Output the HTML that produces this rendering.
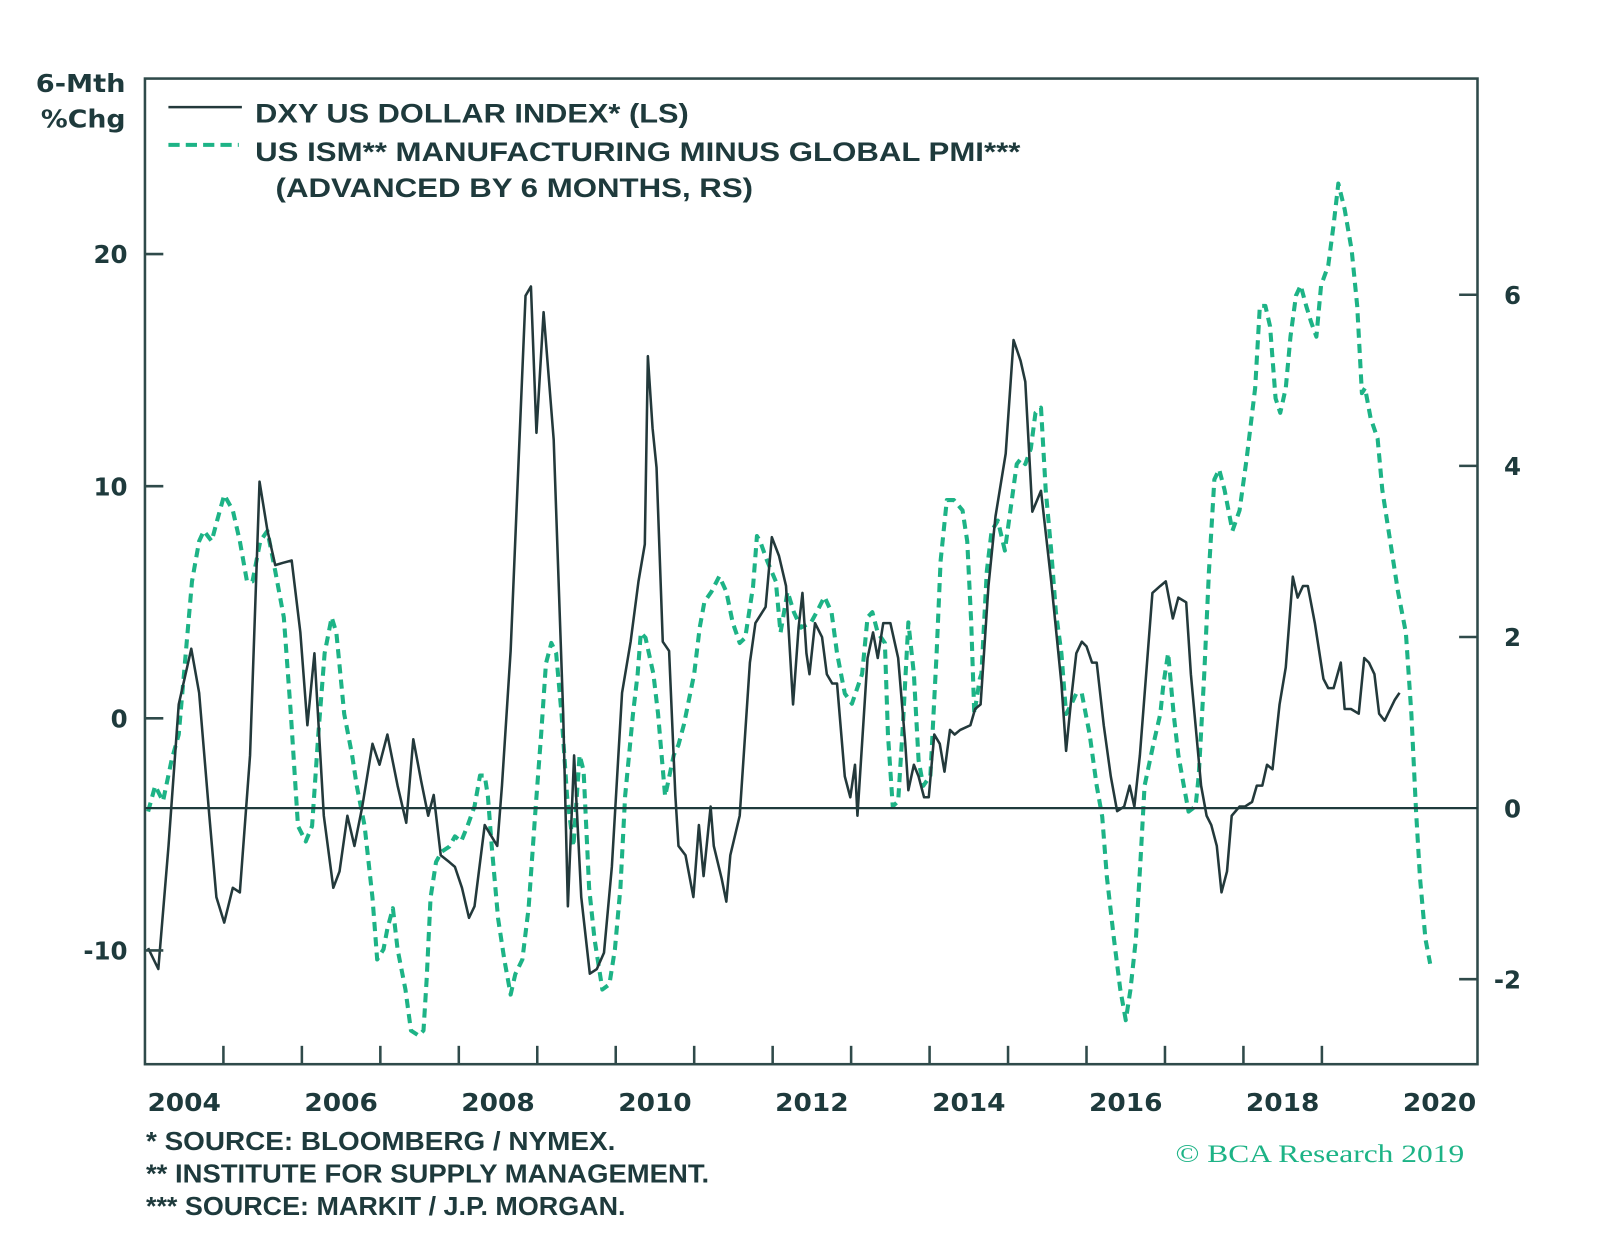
<!DOCTYPE html>
<html><head><meta charset="utf-8"><style>
html,body{margin:0;padding:0;background:#fff;}
svg{display:block;}
text{font-family:"Liberation Sans",sans-serif;fill:#1e3a3c;font-weight:bold;}
.dv{font-family:"DejaVu Sans","Liberation Sans",sans-serif;}
</style></head><body>
<svg id="chart" width="1600" height="1255" viewBox="0 0 1568 1230" xmlns="http://www.w3.org/2000/svg">
<rect x="0" y="0" width="1568" height="1230" fill="#fff"/>
<g id="plot"></g>
<g id="axes"></g>
<g>
<line x1="165" y1="105" x2="237" y2="105" stroke="#23393b" stroke-width="2.5"/>
<line x1="165" y1="142" x2="234" y2="142" stroke="#1db386" stroke-width="4" stroke-dasharray="11 6"/>
<text x="250" y="120" font-size="26" textLength="425" lengthAdjust="spacingAndGlyphs">DXY US DOLLAR INDEX* (LS)</text>
<text x="250" y="158" font-size="26" textLength="750" lengthAdjust="spacingAndGlyphs">US ISM** MANUFACTURING MINUS GLOBAL PMI***</text>
<text x="270" y="193" font-size="26" textLength="468" lengthAdjust="spacingAndGlyphs">(ADVANCED BY 6 MONTHS, RS)</text>
</g>
<text class="dv" x="123" y="90" font-size="24" text-anchor="end" textLength="88" lengthAdjust="spacingAndGlyphs">6-Mth</text>
<text class="dv" x="123" y="125" font-size="24" text-anchor="end" textLength="83" lengthAdjust="spacingAndGlyphs">%Chg</text>
<g>
<text x="143" y="1127" font-size="25" textLength="460" lengthAdjust="spacingAndGlyphs">*  SOURCE: BLOOMBERG / NYMEX.</text>
<text x="143" y="1159" font-size="25" textLength="552" lengthAdjust="spacingAndGlyphs">**  INSTITUTE FOR SUPPLY MANAGEMENT.</text>
<text x="143" y="1191" font-size="25" textLength="470" lengthAdjust="spacingAndGlyphs">*** SOURCE: MARKIT / J.P. MORGAN.</text>
</g>
<text x="1152" y="1139" font-size="25" textLength="283" lengthAdjust="spacingAndGlyphs" style="font-family:'Liberation Serif',serif;fill:#1db386;font-weight:normal">© BCA Research 2019</text>
</svg>
<script>
const dxyDates=[2004.04,2004.17,2004.30,2004.43,2004.59,2004.69,2004.82,2004.91,2005.01,2005.12,2005.21,2005.34,2005.46,2005.56,2005.66,2005.76,2005.87,2005.98,2006.07,2006.16,2006.28,2006.40,2006.48,2006.58,2006.67,2006.77,2006.90,2006.99,2007.09,2007.22,2007.33,2007.42,2007.52,2007.61,2007.68,2007.77,2007.88,2007.95,2008.04,2008.13,2008.20,2008.33,2008.49,2008.55,2008.66,2008.79,2008.85,2008.92,2008.99,2009.08,2009.21,2009.33,2009.39,2009.47,2009.56,2009.67,2009.76,2009.85,2009.95,2010.08,2010.19,2010.29,2010.37,2010.41,2010.47,2010.52,2010.60,2010.68,2010.76,2010.80,2010.89,2010.99,2011.06,2011.12,2011.21,2011.25,2011.35,2011.41,2011.46,2011.58,2011.71,2011.78,2011.91,2011.99,2012.08,2012.17,2012.26,2012.33,2012.38,2012.43,2012.47,2012.54,2012.63,2012.69,2012.76,2012.82,2012.92,2012.99,2013.05,2013.08,2013.21,2013.28,2013.34,2013.41,2013.50,2013.60,2013.69,2013.73,2013.80,2013.86,2013.93,2013.99,2014.06,2014.13,2014.19,2014.26,2014.32,2014.39,2014.52,2014.58,2014.65,2014.75,2014.84,2014.97,2015.07,2015.16,2015.22,2015.31,2015.42,2015.55,2015.68,2015.74,2015.81,2015.87,2015.94,2016.00,2016.07,2016.13,2016.22,2016.31,2016.39,2016.48,2016.55,2016.61,2016.68,2016.84,2016.94,2017.01,2017.10,2017.17,2017.27,2017.33,2017.46,2017.53,2017.59,2017.66,2017.72,2017.79,2017.85,2017.95,2018.02,2018.11,2018.17,2018.24,2018.30,2018.37,2018.46,2018.54,2018.63,2018.69,2018.76,2018.82,2018.91,2019.02,2019.08,2019.15,2019.24,2019.29,2019.37,2019.47,2019.54,2019.60,2019.67,2019.73,2019.80,2019.93,2019.99];
const dxyValues=[-9.9,-10.8,-5.5,0.6,3.0,1.1,-4.2,-7.7,-8.8,-7.3,-7.5,-1.6,10.2,8.1,6.6,6.7,6.8,3.7,-0.3,2.8,-4.2,-7.3,-6.6,-4.2,-5.5,-3.8,-1.1,-2.0,-0.7,-2.9,-4.5,-0.9,-2.7,-4.2,-3.3,-5.9,-6.2,-6.4,-7.3,-8.6,-8.1,-4.6,-5.5,-2.9,2.9,13.4,18.2,18.6,12.3,17.5,12.0,0.2,-8.1,-1.6,-7.7,-11.0,-10.8,-10.1,-6.4,1.1,3.3,5.9,7.5,15.6,12.5,10.8,3.3,2.9,-3.3,-5.5,-5.9,-7.7,-4.6,-6.8,-3.8,-5.5,-6.9,-7.9,-5.9,-4.2,2.4,4.1,4.8,7.8,7.0,5.7,0.6,3.9,5.4,2.8,1.9,4.1,3.5,1.9,1.5,1.5,-2.5,-3.4,-2.0,-4.2,2.6,3.7,2.6,4.1,4.1,2.6,-1.1,-3.1,-2.0,-2.5,-3.4,-3.4,-0.7,-1.1,-2.3,-0.5,-0.7,-0.5,-0.3,0.4,0.6,5.7,8.7,11.4,16.3,15.4,14.5,8.9,9.8,5.9,1.5,-1.4,1.0,2.8,3.3,3.1,2.4,2.4,-0.3,-2.5,-4.0,-3.8,-2.9,-3.8,-1.6,5.4,5.7,5.9,4.3,5.2,5.0,1.9,-2.9,-4.2,-4.6,-5.5,-7.5,-6.6,-4.2,-3.8,-3.8,-3.6,-2.9,-2.9,-2.0,-2.2,0.6,2.2,6.1,5.2,5.7,5.7,4.1,1.7,1.3,1.3,2.4,0.4,0.4,0.2,2.6,2.4,1.9,0.2,-0.1,0.8,1.1];
const ismDates=[2004.04,2004.13,2004.23,2004.34,2004.43,2004.52,2004.60,2004.69,2004.75,2004.85,2004.92,2005.01,2005.12,2005.21,2005.30,2005.37,2005.47,2005.56,2005.66,2005.77,2005.86,2005.95,2006.05,2006.13,2006.21,2006.29,2006.38,2006.44,2006.54,2006.64,2006.70,2006.80,2006.90,2006.96,2007.04,2007.09,2007.16,2007.22,2007.32,2007.39,2007.49,2007.55,2007.59,2007.64,2007.71,2007.78,2007.88,2007.95,2008.03,2008.11,2008.20,2008.27,2008.33,2008.37,2008.42,2008.50,2008.58,2008.66,2008.72,2008.81,2008.89,2008.98,2009.05,2009.11,2009.18,2009.24,2009.31,2009.38,2009.46,2009.54,2009.59,2009.66,2009.73,2009.83,2009.92,2009.99,2010.06,2010.12,2010.22,2010.28,2010.32,2010.38,2010.48,2010.54,2010.63,2010.74,2010.80,2010.87,2011.00,2011.07,2011.13,2011.22,2011.32,2011.41,2011.49,2011.58,2011.65,2011.75,2011.80,2011.84,2011.93,2012.04,2012.10,2012.19,2012.27,2012.36,2012.49,2012.56,2012.66,2012.75,2012.82,2012.92,2013.01,2013.14,2013.21,2013.27,2013.34,2013.43,2013.47,2013.53,2013.60,2013.66,2013.73,2013.80,2013.86,2013.92,2014.01,2014.09,2014.14,2014.22,2014.31,2014.42,2014.48,2014.53,2014.57,2014.64,2014.66,2014.73,2014.79,2014.87,2014.96,2015.03,2015.11,2015.16,2015.22,2015.29,2015.35,2015.42,2015.48,2015.55,2015.61,2015.68,2015.74,2015.81,2015.87,2015.94,2016.04,2016.13,2016.20,2016.26,2016.35,2016.43,2016.50,2016.56,2016.63,2016.69,2016.74,2016.85,2016.94,2016.98,2017.04,2017.11,2017.17,2017.24,2017.30,2017.39,2017.43,2017.50,2017.56,2017.63,2017.69,2017.76,2017.86,2017.95,2018.04,2018.15,2018.21,2018.28,2018.34,2018.41,2018.47,2018.54,2018.60,2018.67,2018.73,2018.80,2018.86,2018.93,2018.99,2019.08,2019.15,2019.21,2019.29,2019.38,2019.45,2019.51,2019.55,2019.62,2019.71,2019.77,2019.84,2019.97,2020.07,2020.14,2020.20,2020.25,2020.32,2020.38];
const ismValues=[-0.04,0.26,0.08,0.56,0.86,1.81,2.65,3.12,3.24,3.12,3.36,3.66,3.48,3.12,2.65,2.65,3.12,3.24,2.77,2.23,1.10,-0.21,-0.39,-0.21,0.86,1.81,2.23,2.05,1.10,0.62,0.26,-0.21,-1.05,-1.77,-1.65,-1.41,-1.17,-1.65,-2.12,-2.60,-2.66,-2.60,-2.00,-1.05,-0.63,-0.51,-0.45,-0.33,-0.39,-0.21,0.02,0.38,0.38,0.14,-0.45,-1.29,-1.77,-2.18,-1.94,-1.77,-1.17,0.02,0.86,1.69,1.93,1.81,1.10,0.14,-0.45,0.62,0.44,-0.93,-1.53,-2.12,-2.06,-1.65,-0.93,0.14,1.10,1.57,2.05,1.99,1.57,1.10,0.14,0.62,0.74,0.98,1.57,2.11,2.41,2.53,2.71,2.53,2.17,1.93,1.99,2.59,3.18,3.12,2.89,2.65,2.05,2.53,2.29,2.11,2.17,2.29,2.47,2.29,1.81,1.34,1.22,1.57,2.23,2.29,2.05,1.93,0.86,0.02,0.08,0.98,2.17,1.57,0.56,0.26,0.38,1.81,2.89,3.60,3.60,3.48,3.12,2.17,1.10,1.51,1.57,2.77,3.24,3.36,3.01,3.48,4.02,4.08,4.02,4.20,4.62,4.68,3.72,3.01,2.29,1.81,1.10,1.22,1.34,1.34,0.86,0.26,-0.10,-0.81,-1.53,-2.12,-2.48,-2.12,-1.53,-0.57,0.26,0.74,1.10,1.45,1.81,1.10,0.62,0.26,-0.04,0.02,0.38,1.57,2.77,3.84,3.96,3.72,3.24,3.48,4.08,4.91,5.87,5.87,5.63,4.79,4.62,4.91,5.51,5.99,6.11,5.87,5.69,5.51,6.11,6.34,6.82,7.30,7.00,6.52,5.87,4.85,4.91,4.56,4.32,3.72,3.30,2.53,2.05,1.10,-0.04,-0.81,-1.53,-1.82];
const leftTicks=[20,10,0,-10];
const rightTicks=[6,4,2,0,-2];
const yearLabels=[2004,2006,2008,2010,2012,2014,2016,2018,2020];

const NS='http://www.w3.org/2000/svg';
const L=142,R=1448,T=77,B=1043;
const xScale=t=>L+(t-2004)*76.9;
const yLeft=v=>704-v*22.75;
const yRight=v=>792-v*83.85;
const plot=document.getElementById('plot');
const axes=document.getElementById('axes');
function mk(tag,attrs,parent){const e=document.createElementNS(NS,tag);for(const k in attrs)e.setAttribute(k,attrs[k]);parent.appendChild(e);return e;}

const frame=mk('rect',{x:L,y:T,width:R-L,height:B-T,fill:'none',stroke:'#2f4a4a','stroke-width':2.5},axes);


const zl=mk('line',{x1:L,x2:R,y1:yRight(0),y2:yRight(0),stroke:'#1e3a3c','stroke-width':2.2},axes);



leftTicks.forEach(v=>{
  const y=yLeft(v);
  const tk=mk('line',{x1:L,x2:L+18,y1:y,y2:y,stroke:'#2f4a4a','stroke-width':2.5},axes);
  
  
  const tx=mk('text',{x:125,y:y+9,'font-size':24,'text-anchor':'end','class':'dv'},axes);
  tx.textContent=String(v);
  
  
});
rightTicks.forEach(v=>{
  const y=yRight(v);
  if(v!==0){
    const tk=mk('line',{x1:R-18,x2:R,y1:y,y2:y,stroke:'#2f4a4a','stroke-width':2.5},axes);
    
    
  }
  const tx=mk('text',{x:v<0?1464:1474,y:y+9,'font-size':24,'class':'dv'},axes);
  tx.textContent=String(v);
  
  
});
for(let yr=2005;yr<=2019;yr++){
  const x=xScale(yr);
  const tk=mk('line',{x1:x,x2:x,y1:B-18,y2:B,stroke:'#2f4a4a','stroke-width':2.5},axes);
  
  
}
yearLabels.forEach(yr=>{
  const tx=mk('text',{x:xScale(yr+0.5),y:1089,'font-size':24,'text-anchor':'middle','class':'dv','textLength':72,'lengthAdjust':'spacingAndGlyphs'},axes);
  tx.textContent=String(yr);
  
  
});

const clip=mk('clipPath',{id:'clipP'},mk('defs',{},document.getElementById('chart')));
mk('rect',{x:L,y:T,width:R-L,height:B-T},clip);

const ismD=ismDates.map((t,i)=>(i?'L':'M')+xScale(t).toFixed(1)+','+yRight(ismValues[i]).toFixed(1)).join('');
const ism=mk('path',{d:ismD,fill:'none',stroke:'#1db386','stroke-width':4,'stroke-dasharray':'9 6','clip-path':'url(#clipP)','stroke-linejoin':'round'},plot);



const dxyD=dxyDates.map((t,i)=>(i?'L':'M')+xScale(t).toFixed(1)+','+yLeft(dxyValues[i]).toFixed(1)).join('');
const dxy=mk('path',{d:dxyD,fill:'none',stroke:'#23393b','stroke-width':2.5,'clip-path':'url(#clipP)','stroke-linejoin':'round'},plot);


</script>
</body></html>
